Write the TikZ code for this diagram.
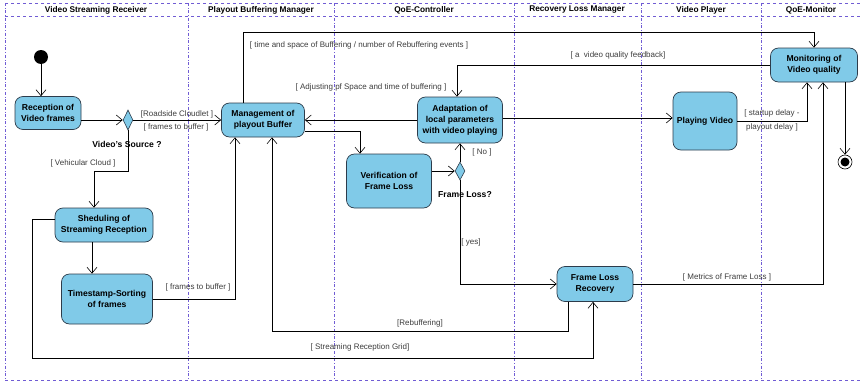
\documentclass[tikz,border=0pt]{standalone}
\usepackage{fontspec}
\setmainfont{Liberation Sans}
\usepackage{tikz}
\usetikzlibrary{arrows.meta,shapes.geometric}

\definecolor{lanecol}{RGB}{112,92,212}
\definecolor{actfill}{RGB}{128,202,232}
\definecolor{actline}{RGB}{45,60,75}
\definecolor{guardcol}{RGB}{60,60,60}

\begin{document}
\begin{tikzpicture}[x=1pt,y=-1pt]

	\tikzstyle lane=[draw=lanecol, dash dot, line width=0.7pt];
	\tikzstyle border=[draw=lanecol, dashed, line width=1pt];
	\tikzstyle lanetitle=[font=\bfseries\fontsize{8.3}{10}\selectfont];
	\tikzstyle activity=[draw=actline, fill=actfill, rounded corners=8pt, line width=0.7pt, align=center, inner sep=1pt, font=\bfseries\fontsize{8.6}{11}\selectfont];
	\tikzstyle decision=[draw=actline, fill=actfill, diamond, inner sep=0pt, minimum width=10pt, minimum height=20pt, line width=0.6pt];
	\tikzstyle flow=[-{Straight Barb[length=6pt,width=10pt]}, line width=0.6pt];
	\tikzstyle guard=[text=guardcol, font=\fontsize{8}{9}\selectfont, inner sep=1pt, align=center];
	\tikzstyle question=[font=\bfseries\fontsize{8.6}{10}\selectfont, inner sep=1pt];

	\useasboundingbox (0,0) rectangle (862,383);

	% swimlanes
	\draw[border] (5,3) -- (862,3);
	\draw[border] (5,16) -- (862,16);
	\draw[border] (5,380) -- (862,380);
	\draw[lane] (5,3) -- (5,380);
	\draw[lane] (188,3) -- (188,380);
	\draw[lane] (334,3) -- (334,380);
	\draw[lane] (514,3) -- (514,380);
	\draw[lane] (641,3) -- (641,380);
	\draw[lane] (761,3) -- (761,380);

	\node[lanetitle] (t1) at (96,10) {Video Streaming Receiver};
	\node[lanetitle] (t2) at (261,10) {Playout Buffering Manager};
	\node[lanetitle] (t3) at (424,10) {QoE-Controller};
	\node[lanetitle] (t4) at (577,10) {Recovery Loss Manager};
	\node[lanetitle] (t5) at (701,10) {Video Player};
	\node[lanetitle] (t6) at (811,10) {QoE-Monitor};

	% activities
	\node[circle, fill=black, inner sep=0pt, minimum size=14pt] (start) at (41,57) {};
	\node[activity, minimum width=66pt, minimum height=33pt] (recv) at (48,113) {Reception of\\Video frames};
	\node[decision] (dec1) at (128,120) {};
	\node[question] (src) at (127,144) {Video's Source ?};
	\node[activity, minimum width=83pt, minimum height=34pt] (buffer) at (263,120) {Management of\\playout Buffer};
	\node[activity, minimum width=85pt, minimum height=46pt] (adapt) at (460,120) {Adaptation of\\local parameters\\with video playing};
	\node[activity, minimum width=64pt, minimum height=58pt] (play) at (705,121) {Playing Video};
	\node[activity, minimum width=87pt, minimum height=34pt] (monitor) at (814,65) {Monitoring of\\Video quality};
	\node[circle, draw=black, fill=white, line width=0.6pt, inner sep=0pt, minimum size=14pt] (endnode) at (845,162) {};
	\node[circle, fill=black, inner sep=0pt, minimum size=9pt] (endcore) at (845,162) {};
	\node[activity, minimum width=85pt, minimum height=54pt] (verify) at (389,181) {Verification of\\Frame Loss};
	\node[decision, minimum height=18pt] (dec2) at (460,171) {};
	\node[question] (loss) at (465,195) {Frame Loss?};
	\node[activity, minimum width=98pt, minimum height=34pt] (sched) at (104,225) {Sheduling of\\Streaming Reception};
	\node[activity, minimum width=91pt, minimum height=50pt] (sort) at (107,299) {Timestamp-Sorting\\of frames};
	\node[activity, minimum width=76pt, minimum height=35pt] (recovery) at (595,284) {Frame Loss\\Recovery};

	% flows
	\draw[flow] (start) -- (start |- recv.north);
	\draw[flow] (recv.east |- dec1.west) -- (dec1.west);
	\draw[flow] (dec1.east) -- (buffer.west |- dec1.east);
	\draw[flow] (dec1.south) -- ++(0,41) -| ([xshift=-10pt]sched.north);
	\draw[flow] ([xshift=-12pt]sched.south) -- ([xshift=-12pt]sched.south |- sort.north);
	\draw[flow] ([yshift=6pt]sched.west) -- ++(-22,0) -- ++(0,139) -| ([xshift=-2pt]recovery.south);
	\draw[flow] (sort.east) -| ([xshift=-28pt]buffer.south);
	\draw[flow] ([xshift=-27pt]recovery.south) -- ++(0,29) -| ([xshift=9pt]buffer.south);
	\draw[flow] (adapt.west |- buffer.east) -- (buffer.east);
	\draw[flow] ([yshift=-11pt]buffer.east) -| ([xshift=-29pt]verify.north);
	\draw[flow] ([xshift=-20pt]buffer.north) -- ++(0,-70) -| (monitor.north);
	\draw[flow] (monitor.west) -| ([xshift=-3pt]adapt.north);
	\draw[flow] ([yshift=2pt]adapt.east) -- ([yshift=2pt]play.west |- adapt.east);
	\draw[flow] (play.east) -| ([xshift=-7pt]monitor.south);
	\draw[flow] (recovery.east) -| ([xshift=9pt]monitor.south);
	\draw[flow] ([xshift=31pt]monitor.south) -- (endnode.north);
	\draw[flow] (verify.east |- dec2.west) -- (dec2.west);
	\draw[flow] (dec2.north) -- (dec2.north |- adapt.south);
	\draw[flow] (dec2.south) |- (recovery.west);

	% guards
	\node[guard] (g1) at (177,114) {[Roadside Cloudlet ]};
	\node[guard] (g2) at (176,127) {[ frames to buffer ]};
	\node[guard] (g3) at (83,163) {[ Vehicular Cloud ]};
	\node[guard] (g4) at (198,287) {[ frames to buffer ]};
	\node[guard] (g5) at (360,347) {[ Streaming Reception Grid]};
	\node[guard] (g6) at (420,323) {[Rebuffering]};
	\node[guard] (g7) at (359,45) {[ time and space of Buffering / number of Rebuffering events ]};
	\node[guard] (g8) at (371,87) {[ Adjusting pf Space and time of buffering ]};
	\node[guard] (g9) at (618,55) {[ a\ \ video quality feedback]};
	\node[guard] (g10) at (772,120) {[ startup delay -\\[5pt]playout delay ]};
	\node[guard] (g11) at (727,277) {[ Metrics of Frame Loss ]};
	\node[guard] (g12) at (482,152) {[ No ]};
	\node[guard] (g13) at (471,242) {[ yes]};

\end{tikzpicture}
\end{document}
